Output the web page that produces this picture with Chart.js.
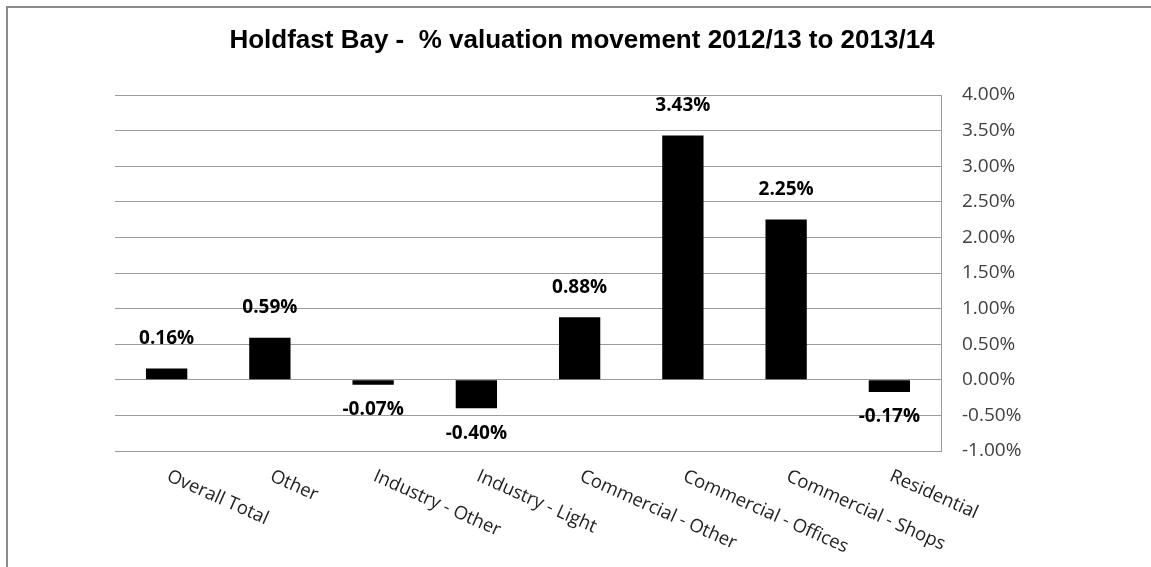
<!DOCTYPE html>
<html>
<head>
<meta charset="utf-8">
<title>Holdfast Bay valuation movement</title>
<script src="https://cdn.jsdelivr.net/npm/chart.js@4.4.1/dist/chart.umd.min.js"></script>
<style>
  html, body { margin: 0; padding: 0; background: #fff; }
  #wrap { width: 1151px; height: 567px; }
</style>
</head>
<body>
<div id="wrap"><canvas id="movementChart"></canvas></div>
<script>
var chartTitle = 'Holdfast Bay -  % valuation movement 2012/13 to 2013/14';
var categories = ['Overall Total', 'Other', 'Industry - Other', 'Industry - Light',
                  'Commercial - Other', 'Commercial - Offices', 'Commercial - Shops', 'Residential'];
var movement = [0.16, 0.59, -0.07, -0.40, 0.88, 3.43, 2.25, -0.17];
var yMin = -1, yMax = 4, yStep = 0.5;

var pct = function (v) { return v.toFixed(2) + '%'; };

// frame, title, value labels and slanted category names
var decorations = {
    id: 'decorations',
    beforeDraw: function (chart) {
        var c = chart.ctx;
        c.save();
        c.fillStyle = '#ffffff';
        c.fillRect(0, 0, chart.width, chart.height);
        c.fillStyle = '#8a8a8a';
        c.fillRect(6, 6, chart.width, 2);
        c.fillRect(6, 6, 2, chart.height);
        c.restore();
    },
    afterDraw: function (chart) {
        var c = chart.ctx;
        var xs = chart.scales.x;
        var area = chart.chartArea;
        c.save();

        c.fillStyle = '#000';
        c.font = 'bold 26px "Liberation Sans", Arial, sans-serif';
        c.textAlign = 'center';
        c.textBaseline = 'middle';
        c.fillText(chartTitle, 582, 41);

        var meta = chart.getDatasetMeta(0);
        c.font = 'bold 19px "Open Sans", sans-serif';
        meta.data.forEach(function (bar, i) {
            var v = movement[i];
            var y = v >= 0 ? bar.y - 30 : bar.y + 25;
            c.fillText(pct(v), bar.x, y);
        });

        c.font = '18.5px "Open Sans", sans-serif';
        c.fillStyle = '#222';
        c.textAlign = 'left';
        c.textBaseline = 'top';
        categories.forEach(function (name, i) {
            var x = xs.getPixelForValue(i);
            c.save();
            c.translate(x + 5, area.bottom + 16);
            c.rotate(24 * Math.PI / 180);
            c.fillText(name, 0, 0);
            c.restore();
        });
        c.restore();
    }
};

var ctx = document.getElementById('movementChart').getContext('2d');
var movementChart = new Chart(ctx, {
    type: 'bar',
    data: {
        labels: categories,
        datasets: [{
            label: '% movement',
            data: movement,
            backgroundColor: '#000',
            borderWidth: 0,
            barPercentage: 0.4,
            categoryPercentage: 1.0
        }]
    },
    options: {
        responsive: true,
        maintainAspectRatio: false,
        animation: false,
        layout: { padding: { top: 95, left: 115, right: 0, bottom: 116 } },
        plugins: {
            legend: { display: false },
            title: { display: false },
            tooltip: { enabled: false }
        },
        scales: {
            x: { display: false },
            y: {
                position: 'right',
                min: yMin,
                max: yMax,
                afterFit: function (scale) { scale.width = 210; },
                ticks: {
                    stepSize: yStep,
                    padding: 21,
                    color: '#404040',
                    font: { family: '"Open Sans", sans-serif', size: 19 },
                    callback: function (v) { return pct(v); }
                },
                grid: { color: '#9c9c9c', lineWidth: 1, drawTicks: false },
                border: { display: true, color: '#9c9c9c', width: 1 }
            }
        }
    },
    plugins: [decorations]
});
</script>
</body>
</html>
